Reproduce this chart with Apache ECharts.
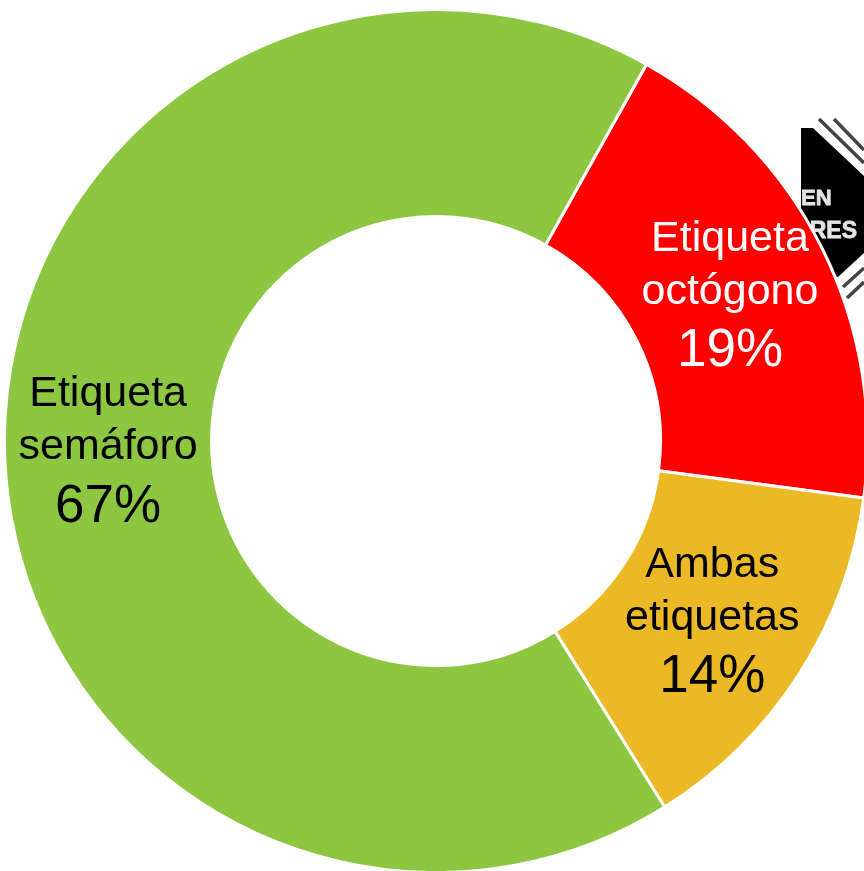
<!DOCTYPE html>
<html>
<head>
<meta charset="utf-8">
<style>
  html, body { margin: 0; padding: 0; background: #fff; overflow: hidden; }
  #main { width: 864px; height: 871px; }
</style>
</head>
<body>
<div id="main"></div>
<script src="https://cdn.jsdelivr.net/npm/echarts@6/dist/echarts.min.js"></script>
<script>
var categories = ['Etiqueta\noctógono', 'Ambas\netiquetas', 'Etiqueta\nsemáforo'];
var values = [19, 14, 67];
var colors = ['#ff0000', '#ebb925', '#8dc742'];
var labelColors = ['#fff', '#000', '#000'];
var labelOffsets = [[-2, 6], [-2, 4], [3, 5]];

var fontFamily = 'Helvetica, "Liberation Sans", Arial, sans-serif';

var pieData = categories.map(function (name, i) {
  return {
    name: name,
    value: values[i],
    itemStyle: { color: colors[i] },
    label: {
      offset: labelOffsets[i],
      rich: {
        n: { fontSize: 43, lineHeight: 53, color: labelColors[i], fontFamily: fontFamily },
        p: { fontSize: 53, lineHeight: 66, color: labelColors[i], fontFamily: fontFamily }
      }
    }
  };
});

// the black octagon behind the ring, only a piece of it shows
var stripe = { stroke: '#444', lineWidth: 3.5 };
var logo = [
  { type: 'polygon', shape: { points: [[801, 128], [813, 128], [864, 176], [864, 253], [838, 277], [801, 277]] }, style: { fill: '#000' }, z: 0 },
  { type: 'line', shape: { x1: 819, y1: 119, x2: 864, y2: 163 }, style: stripe, z: 0 },
  { type: 'line', shape: { x1: 834, y1: 119, x2: 864, y2: 150 }, style: stripe, z: 0 },
  { type: 'line', shape: { x1: 843, y1: 287, x2: 864, y2: 268 }, style: stripe, z: 0 },
  { type: 'line', shape: { x1: 847, y1: 298, x2: 864, y2: 282 }, style: stripe, z: 0 },
  { type: 'text', x: 801, y: 188, style: { text: 'EN', fill: '#e4e4e4', stroke: '#e4e4e4', lineWidth: 0.8, font: 'bold 22px ' + fontFamily }, z: 0 },
  { type: 'text', x: 857, y: 220, style: { text: 'RES', fill: '#e4e4e4', stroke: '#e4e4e4', lineWidth: 0.8, align: 'right', font: 'bold 23px ' + fontFamily }, z: 0 }
];

var myChart = echarts.init(document.getElementById('main'), null, { renderer: 'canvas' });
myChart.setOption({
  animation: false,
  backgroundColor: '#fff',
  graphic: { elements: logo },
  series: [{
    type: 'pie',
    z: 5,
    center: [436, 441],
    radius: [224.5, 431.5],
    startAngle: 60.8,
    clockwise: true,
    avoidLabelOverlap: false,
    itemStyle: { borderColor: '#fff', borderWidth: 3 },
    emphasis: { disabled: true },
    labelLine: { show: false },
    label: {
      show: true,
      position: 'inside',
      formatter: function (p) {
        return p.name.split('\n').map(function (s) {
          return '{n|' + s + '}';
        }).join('\n') + '\n{p|' + p.value + '%}';
      }
    },
    data: pieData
  }]
});
</script>
</body>
</html>
